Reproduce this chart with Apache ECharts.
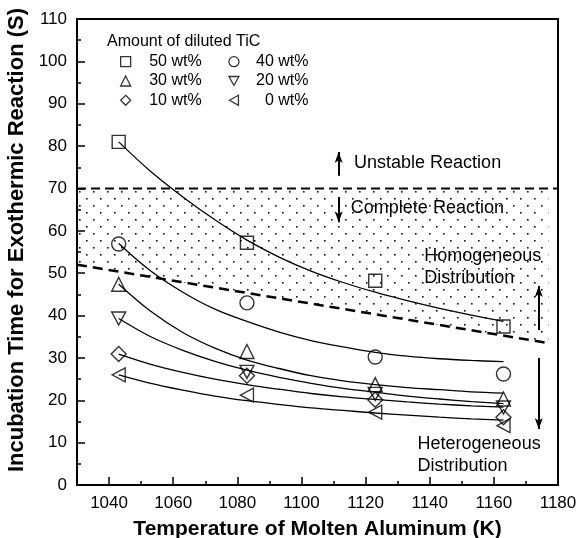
<!DOCTYPE html>
<html><head><meta charset="utf-8">
<script src="https://cdn.jsdelivr.net/npm/echarts@6/dist/echarts.min.js"></script>
<style>html,body{margin:0;padding:0;background:#fff}#c{width:582px;height:538px}</style>
</head><body><div id="c"></div>
<script>
// ---------- data ----------
const tempPoints = [1043, 1083, 1123, 1163];
const wt50 = [81.0, 57.2, 48.2, 37.4];
const wt40 = [56.9, 43.0, 30.2, 26.2];
const wt30 = [47.4, 31.5, 23.7, 20.3];
const wt20 = [39.3, 26.7, 21.5, 18.3];
const wt10 = [30.9, 25.8, 20.1, 16.0];
const wt0  = [26.0, 21.2, 17.2, 14.0];

const curveT = [1043, 1053, 1063, 1073, 1083, 1093, 1103, 1113, 1123, 1133, 1143, 1153, 1163];
const fit50 = [81.0, 74.0, 68.0, 62.6, 57.8, 53.8, 50.5, 47.8, 45.5, 43.5, 41.7, 40.1, 38.6];
const fit40 = [57.0, 50.5, 45.5, 41.5, 38.6, 36.1, 34.1, 32.6, 31.3, 30.4, 29.8, 29.4, 29.1];
const fit30 = [47.4, 41.0, 36.0, 32.3, 29.5, 27.5, 25.8, 24.6, 23.7, 23.0, 22.5, 22.0, 21.7];
const fit20 = [39.3, 35.0, 31.8, 29.2, 27.1, 25.4, 24.0, 22.8, 21.9, 21.0, 20.3, 19.7, 19.2];
const fit10 = [30.9, 28.5, 26.6, 25.0, 23.7, 22.6, 21.6, 20.8, 20.2, 19.6, 19.1, 18.7, 18.4];
const fit0  = [26.0, 24.0, 22.4, 21.0, 19.9, 19.0, 18.2, 17.6, 17.0, 16.5, 16.0, 15.6, 15.3];

const limitX = [1030, 1180];
const limitY = [70, 70];
const boundaryX = [1030, 1177];
const boundaryY = [52.0, 33.5];

const xTickValues = [1040, 1060, 1080, 1100, 1120, 1140, 1160, 1180];
const seriesNames = ['50 wt%', '40 wt%', '30 wt%', '20 wt%', '10 wt%', '0 wt%'];

// ---------- style ----------
const FONT = '"Liberation Sans", Arial, Helvetica, sans-serif';
const zip = (a, b) => a.map((v, i) => [v, b[i]]);
const TRI_DOWN = 'path://M0,0 L10,0 L5,9 Z';
const TRI_LEFT = 'path://M0,5 L9,0 L9,10 Z';
const markerDefs = [
  { name: seriesNames[0], data: wt50, symbol: 'rect', size: 13 },
  { name: seriesNames[1], data: wt40, symbol: 'circle', size: 14 },
  { name: seriesNames[2], data: wt30, symbol: 'triangle', size: 14 },
  { name: seriesNames[3], data: wt20, symbol: TRI_DOWN, size: [14, 13] },
  { name: seriesNames[4], data: wt10, symbol: 'diamond', size: 15 },
  { name: seriesNames[5], data: wt0,  symbol: TRI_LEFT, size: [13, 14] }
];
const fits = [fit50, fit40, fit30, fit20, fit10, fit0];

// dot pattern
const pc = document.createElement('canvas');
pc.width = 14; pc.height = 14;
const g = pc.getContext('2d');
g.fillStyle = '#111';
g.fillRect(2, 2, 1.6, 1.6);
g.fillRect(9, 9, 1.6, 1.6);

const chart = echarts.init(document.getElementById('c'), null, { renderer: 'canvas' });

const series = [];
series.push({
  type: 'custom', name: 'band', silent: true, z: 1,
  data: [[boundaryX[0], limitY[0]]],
  renderItem: function (params, api) {
    const pts = [];
    for (let i = 0; i < boundaryX.length; i++) pts.push(api.coord([boundaryX[i], boundaryY[i]]));
    for (let i = boundaryX.length - 1; i >= 0; i--) pts.push(api.coord([boundaryX[i], limitY[0]]));
    return { type: 'polygon', shape: { points: pts }, style: { fill: { image: pc, repeat: 'repeat' }, stroke: null } };
  }
});
series.push({
  type: 'line', name: 'limit', data: zip(limitX, limitY), symbol: 'none', silent: true, z: 3,
  lineStyle: { color: '#000', width: 2, type: [9, 5] },
  markLine: {
    silent: true, symbol: ['none', 'arrow'], symbolSize: [6, 11],
    label: { show: false },
    lineStyle: { color: '#000', width: 2, type: 'solid' },
    data: [
      [{ coord: [1111.6, 73.0] }, { coord: [1111.6, 78.6] }],
      [{ coord: [1111.6, 68.0] }, { coord: [1111.6, 62.0] }],
      [{ coord: [1174.0, 36.6] }, { coord: [1174.0, 47.0] }],
      [{ coord: [1174.0, 30.0] }, { coord: [1174.0, 13.2] }]
    ]
  }
});
series.push({
  type: 'line', name: 'boundary', data: zip(boundaryX, boundaryY), symbol: 'none', silent: true, z: 3,
  lineStyle: { color: '#000', width: 2.5, type: [10, 6] }
});
fits.forEach((f, i) => series.push({
  type: 'line', name: 'fit' + i, data: zip(curveT, f), symbol: 'none', smooth: 0.35, silent: true, z: 4,
  lineStyle: { color: '#000', width: 1.3 }
}));
markerDefs.forEach(m => series.push({
  type: 'scatter', name: m.name, data: zip(tempPoints, m.data), symbol: m.symbol, symbolSize: m.size, z: 5,
  itemStyle: { color: 'rgba(0,0,0,0)', borderColor: '#000', borderWidth: 1.4 }
}));

const legendCommon = {
  orient: 'vertical', itemWidth: 10, itemHeight: 10, itemGap: 3.3, selectedMode: false, padding: 0,
  itemStyle: { color: 'rgba(0,0,0,0)', borderColor: '#000', borderWidth: 1.3 },
  textStyle: { fontFamily: FONT, fontSize: 16, color: '#000' }
};
const legend1 = Object.assign({}, legendCommon, {
  left: 120, top: 53.7, data: [seriesNames[0], seriesNames[2], seriesNames[4]],
  formatter: n => '{t|' + n + '}',
  textStyle: Object.assign({}, legendCommon.textStyle, { rich: { t: { width: 66, align: 'right', fontSize: 16, lineHeight: 16, fontFamily: FONT } } })
});
const legend2 = Object.assign({}, legendCommon, {
  left: 228.3, top: 53.7, data: [seriesNames[1], seriesNames[3], seriesNames[5]],
  formatter: n => '{t|' + n + '}',
  textStyle: Object.assign({}, legendCommon.textStyle, { rich: { t: { width: 64.5, align: 'right', fontSize: 16, lineHeight: 16, fontFamily: FONT } } })
});

const axisLabelStyle = { fontFamily: FONT, fontSize: 17, color: '#000' };
chart.setOption({
  animation: false,
  backgroundColor: '#fff',
  grid: { left: 77, right: 24, top: 19, bottom: 53, outerBoundsMode: 'none', containLabel: false,
    show: true, borderColor: '#000', borderWidth: 2, backgroundColor: 'transparent' },
  legend: [legend1, legend2],
  xAxis: [
    {
      type: 'value', min: 1030, max: 1180, interval: 10,
      name: 'Temperature of Molten Aluminum (K)', nameLocation: 'middle', nameGap: 34,
      nameTextStyle: { fontFamily: FONT, fontSize: 21, fontWeight: 'bold', color: '#000' },
      axisLine: { lineStyle: { color: '#000', width: 2 } },
      axisTick: { inside: true, length: 8, customValues: xTickValues, lineStyle: { color: '#000', width: 1.5 } },
      axisLabel: Object.assign({ customValues: xTickValues, margin: 10, formatter: v => String(v) }, axisLabelStyle),
      splitLine: { show: false }
    },
    {
      type: 'value', min: 1030, max: 1180, interval: 10, position: 'bottom',
      axisLine: { show: false },
      axisTick: { inside: true, length: 4, lineStyle: { color: '#000', width: 1.5 } },
      axisLabel: { show: false }, splitLine: { show: false }
    }
  ],
  yAxis: {
    type: 'value', min: 0, max: 110, interval: 10,
    name: 'Incubation Time for Exothermic Reaction (S)', nameLocation: 'middle', nameGap: 44,
    nameTextStyle: { fontFamily: FONT, fontSize: 22, fontWeight: 'bold', color: '#000', padding: [0, 0, 0, 24] },
    axisLine: { lineStyle: { color: '#000', width: 2 } },
    axisTick: { inside: true, length: 8, lineStyle: { color: '#000', width: 1.5 } },
    minorTick: { show: true, splitNumber: 2, length: 4, lineStyle: { color: '#000', width: 1.5 } },
    axisLabel: Object.assign({ margin: 10 }, axisLabelStyle),
    splitLine: { show: false }
  },
  series: series
});

// annotations placed by data coordinates
const annotations = [
  { text: 'Unstable Reaction', at: [1116.4, 76.0] },
  { text: 'Complete Reaction', at: [1115.4, 65.3] },
  { text: 'Homogeneous', at: [1138.3, 54.1] },
  { text: 'Distribution', at: [1138.3, 48.8] },
  { text: 'Heterogeneous', at: [1136.2, 9.6] },
  { text: 'Distribution', at: [1136.2, 4.5] }
];
const graphics = annotations.map(a => {
  const p = chart.convertToPixel({ xAxisIndex: 0, yAxisIndex: 0 }, a.at);
  return { type: 'text', x: p[0], y: p[1], z: 10, silent: true,
    style: { text: a.text, fontFamily: FONT, fontSize: 18, fill: '#000', align: 'left', verticalAlign: 'middle' } };
});
graphics.push({ type: 'text', x: 107, y: 41.7, z: 10, silent: true,
  style: { text: 'Amount of diluted TiC', fontFamily: FONT, fontSize: 16, fill: '#000', align: 'left', verticalAlign: 'middle' } });
chart.setOption({ graphic: graphics });
</script></body></html>
